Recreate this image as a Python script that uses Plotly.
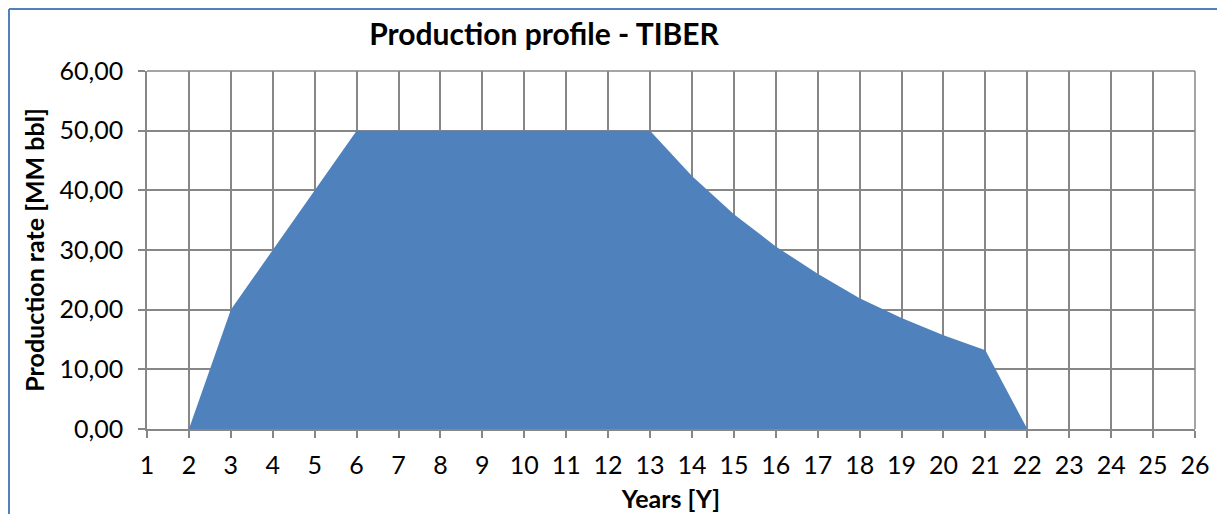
import plotly.graph_objects as go

years = list(range(2, 23))
production = [0, 20, 30, 40, 50, 50, 50, 50, 50, 50, 50, 50,
              42.4, 36.0, 30.6, 26.0, 21.9, 18.6, 15.7, 13.2, 0]
x_ticks = list(range(1, 27))
y_ticks = [0, 10, 20, 30, 40, 50, 60]

FONT = "Lato, sans-serif"
fig = go.Figure()
fig.add_trace(go.Scatter(
    x=years, y=production, mode="lines", fill="tozeroy",
    fillcolor="#4F81BD", line=dict(width=0, color="#4F81BD"),
    hoverinfo="x+y", showlegend=False,
))

# page has an 8px body margin; figure is sized so it fills the window
OFF = 8
W, H = 1225 - OFF, 514 - OFF
L, R, T, B = 147 - OFF, 30, 71 - OFF, 85
pw = W - L - R
ph = H - T - B
GRID = "#878787"

fig.update_layout(
    width=W, height=H,
    margin=dict(l=L, r=R, t=T, b=B, pad=0),
    paper_bgcolor="white", plot_bgcolor="white",
    separators=", ",
    font=dict(family=FONT, size=25, color="black"),
    title=dict(text="<b>Production profile - TIBER</b>", x=(544 - OFF) / W, xanchor="center",
               y=1 - (34 - OFF) / H, yanchor="middle", font=dict(size=30, family=FONT)),
    xaxis=dict(
        range=[1, 26], tickvals=x_ticks, ticktext=[str(v) for v in x_ticks],
        showgrid=True, gridcolor=GRID, gridwidth=1.5,
        showline=True, linecolor=GRID, linewidth=1.5,
        ticks="outside", ticklen=7, tickcolor=GRID, tickwidth=1.5,
        zeroline=False, ticklabelstandoff=6, automargin=False,
        title=dict(text="<b>Years [Y]</b>", font=dict(size=25), standoff=13),
        tickfont=dict(size=25),
    ),
    yaxis=dict(
        range=[0, 60], tickvals=y_ticks, tickformat=".2f",
        showgrid=True, gridcolor=GRID, gridwidth=1.5,
        showline=True, linecolor=GRID, linewidth=1.5,
        ticks="outside", ticklen=7, tickcolor=GRID, tickwidth=1.5,
        zeroline=False, ticklabelstandoff=10, automargin=False,
        title=dict(text="<b>Production rate [MM bbl]</b>", font=dict(size=25), standoff=8),
        tickfont=dict(size=25),
    ),
)

# right and top border of plot area grid
fig.add_shape(type="line", xref="paper", yref="paper", x0=1, x1=1, y0=0, y1=1,
              line=dict(color=GRID, width=1.5))
fig.add_shape(type="line", xref="paper", yref="paper", x0=0, x1=1, y0=1, y1=1,
              line=dict(color=GRID, width=1.5))

# outer blue chart frame (top and left edges)
fx = (9 - 147) / pw
fy = 1 + (71 - 9) / ph
fig.add_shape(type="line", xref="paper", yref="paper", x0=fx, x1=(W + 5 - L) / pw, y0=fy, y1=fy,
              line=dict(color="#4F81BD", width=2))
fig.add_shape(type="line", xref="paper", yref="paper", x0=fx, x1=fx, y0=fy, y1=-(B + 5) / ph,
              line=dict(color="#4F81BD", width=2))

fig.write_html("out.html")
